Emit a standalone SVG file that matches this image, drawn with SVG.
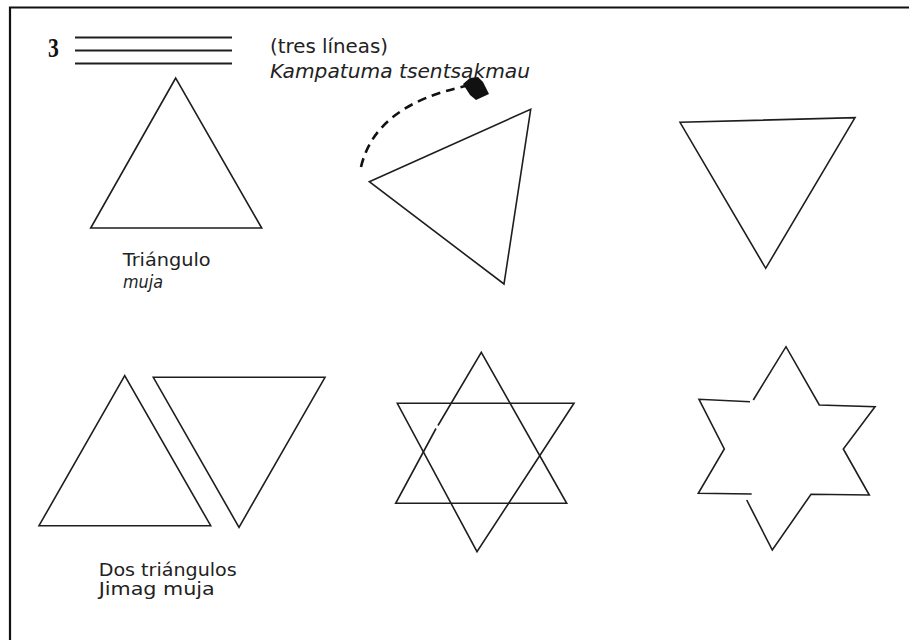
<svg xmlns="http://www.w3.org/2000/svg" width="909" height="640" viewBox="0 0 909 640">
<style>
.shape{fill:none;stroke:#1e1e1e;stroke-width:1.6;stroke-linejoin:miter}
.lbl{font-family:"DejaVu Sans","Liberation Sans",sans-serif;font-size:18px;fill:#222}
.top{font-size:19px}
.it{font-style:italic}
.bar{stroke:#1e1e1e;stroke-width:2.2}
</style>
<rect width="909" height="640" fill="#fff"/>
<g id="frame">
<path d="M10,640 V7.5 H909" fill="none" stroke="#111" stroke-width="2.2"/>
</g>
<g id="title">
<text x="48" y="57" font-family="'Liberation Serif',serif" font-weight="bold" font-size="27" fill="#111" transform="translate(48 0) scale(0.8 1) translate(-48 0)">3</text>
<line class="bar" x1="75" y1="37.5" x2="232" y2="37.5"/>
<line class="bar" x1="75" y1="50.5" x2="232" y2="50.5"/>
<line class="bar" x1="75" y1="63.5" x2="232" y2="63.5" stroke="#444"/>
<text class="lbl top" x="270" y="53" textLength="118" lengthAdjust="spacingAndGlyphs">(tres líneas)</text>
<text class="lbl top it" x="270" y="78" textLength="260" lengthAdjust="spacingAndGlyphs">Kampatuma tsentsakmau</text>
</g>
<g id="triangle-up">
<polygon class="shape" points="175.7,78 90.7,228 261.7,228"/>
<text class="lbl" x="122.7" y="266" textLength="88" lengthAdjust="spacingAndGlyphs">Triángulo</text>
<text class="lbl it" x="123" y="288" textLength="40" lengthAdjust="spacingAndGlyphs">muja</text>
</g>
<g id="triangle-rotated">
<polygon class="shape" points="369.3,181.7 530.7,109.3 504,284"/>
</g>
<g id="triangle-down">
<polygon class="shape" points="680,122.3 855,117.7 765.7,268.3"/>
</g>
<g id="two-triangles">
<polygon class="shape" points="124.7,375.7 39,525.7 210.7,525.7"/>
<polygon class="shape" points="153.3,377.3 325,377.3 239,527.3"/>
<text class="lbl" x="98.7" y="576" textLength="138" lengthAdjust="spacingAndGlyphs">Dos triángulos</text>
<text class="lbl" x="98.7" y="595" textLength="116" lengthAdjust="spacingAndGlyphs">Jimag muja</text>
</g>
<g id="star-overlap">
<polyline class="shape" points="436,428.5 395.7,503.3 566.7,503.3 481.3,352.3 438,425.5"/>
<polygon class="shape" points="397.3,403.3 574,403.3 477,551.7"/>
</g>
<g id="star-outline">
<polyline class="shape" points="753.3,400 786,346.7 819.3,405 875,406.7 843.3,449 869.3,495 811,494.3 772.3,550 746.7,500"/>
<polyline class="shape" points="751.7,494 698.3,493.3 724.3,449 699,399.3 750,401.7"/>
</g>
<g id="connectors">
<path d="M361,167 Q375.5,105 466,86" fill="none" stroke="#111" stroke-width="2.6" stroke-dasharray="9,6"/>
<path d="M463,84 L470,78 L478,77 L483,82 L489,94 L476,100 L470,95 Z" fill="#111"/>
</g>
</svg>
